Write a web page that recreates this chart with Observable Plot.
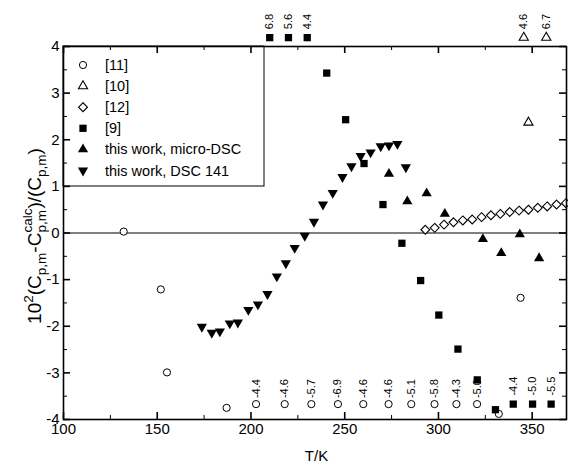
<!DOCTYPE html>
<html><head><meta charset="utf-8">
<script src="https://cdn.jsdelivr.net/npm/d3@7"></script>
<script src="https://cdn.jsdelivr.net/npm/@observablehq/plot@0.6"></script>
<style>
body{margin:0;background:#fff;}
#chart{position:relative;width:568px;height:469px;}
</style></head><body><div id="chart"></div>
<script>
// ---------- data (T/K, 10^2 (Cp - Cp_calc)/Cp) ----------
const ref11T = [132.1, 151.9, 155.2, 187.0, 202.7, 218.0, 232.2, 246.4, 259.9, 273.4, 285.5, 297.9, 309.6, 320.6, 332.2, 343.8];
const ref11Y = [0.03, -1.21, -2.99, -3.75, -4.4, -4.6, -5.7, -6.9, -4.6, -4.6, -5.1, -5.8, -4.3, -5.0, -3.88, -1.39];
const ref10T = [345.5, 348.0, 357.5];
const ref10Y = [4.6, 2.37, 6.7];
const ref12T = [293, 298, 303, 308, 313, 318, 323, 328, 333, 338, 343, 348, 353, 358, 363, 368];
const ref12Y = [0.07, 0.11, 0.18, 0.23, 0.27, 0.29, 0.34, 0.38, 0.41, 0.45, 0.48, 0.50, 0.54, 0.57, 0.61, 0.64];
const ref9T = [210, 220, 230, 240.4, 250.5, 260.3, 270.4, 280.5, 290.5, 300.2, 310.4, 320.7, 330.4, 339.9, 350.2, 360.1];
const ref9Y = [6.8, 5.6, 4.4, 3.43, 2.43, 1.49, 0.61, -0.22, -1.02, -1.76, -2.49, -3.15, -3.79, -4.4, -5.0, -5.5];
const microT = [273.6, 283.4, 293.7, 303.4, 323.7, 333.5, 343.4, 353.7];
const microY = [1.27, 0.68, 0.85, 0.41, -0.13, -0.43, -0.03, -0.54];
const dscT = [173.8, 179.1, 183.4, 188.7, 193.0, 198.6, 203.7, 208.8, 213.8, 218.6, 223.3, 228.7, 233.6, 238.4, 243.6, 248.8, 253.6, 258.5, 263.8, 269.2, 273.6, 278.1, 282.6];
const dscY = [-2.01, -2.14, -2.11, -1.94, -1.92, -1.65, -1.53, -1.31, -0.93, -0.65, -0.32, -0.06, 0.24, 0.61, 0.86, 1.20, 1.43, 1.65, 1.73, 1.86, 1.88, 1.91, 1.41];
const seriesNames = ["[11]", "[10]", "[12]", "[9]", "this work, micro-DSC", "this work, DSC 141"];
const xTicks = [100, 150, 200, 250, 300, 350];
const xMinor = [125, 175, 225, 275, 325];
const yTicks = [-4, -3, -2, -1, 0, 1, 2, 3, 4];
const yMinor = [-3.5, -2.5, -1.5, -0.5, 0.5, 1.5, 2.5, 3.5];
const xTitle = "T/K";

// ---------- layout ----------
const W = 568, H = 469, mL = 63, mR = 2, mT = 46, mB = 50;
const innerH = H - mT - mB, innerW = W - mL - mR;
const yLimLo = -4, yLimHi = 4;       // axis range
const yMarkLo = -3.67, yMarkHi = 4.19; // where off-scale points are drawn
const FONT = "'Liberation Sans', Arial, sans-serif";

const rows = (T, Y) => T.map((t, i) => {
  const v = Y[i];
  const out = v < yLimLo || v > yLimHi;
  return {t, v, out, y: v < yLimLo ? yMarkLo : v > yLimHi ? yMarkHi : v};
});
const d11 = rows(ref11T, ref11Y), d10 = rows(ref10T, ref10Y), d12 = rows(ref12T, ref12Y),
      d9 = rows(ref9T, ref9Y), dMicro = rows(microT, microY), dDsc = rows(dscT, dscY);

const sqrt3 = Math.sqrt(3);
const triDown = {draw(ctx, size) {
  const y = Math.sqrt(size / (sqrt3 * 3));
  ctx.moveTo(0, 2 * y); ctx.lineTo(-sqrt3 * y, -y); ctx.lineTo(sqrt3 * y, -y); ctx.closePath();
}};

const styles = [
  {symbol: d3.symbolCircle, r: 3.6, fill: "white", stroke: "black", strokeWidth: 1, labelGap: 6},
  {symbol: d3.symbolTriangle2, r: 4.4, fill: "white", stroke: "black", strokeWidth: 1.1, labelGap: 8.5},
  {symbol: d3.symbolDiamond2, r: 4.0, fill: "white", stroke: "black", strokeWidth: 1.1, labelGap: 8},
  {symbol: d3.symbolSquare, r: 4.1, fill: "black", stroke: "none", strokeWidth: 0, labelGap: 8.5},
  {symbol: d3.symbolTriangle, r: 3.8, fill: "black", stroke: "none", strokeWidth: 0, labelGap: 8},
  {symbol: triDown, r: 3.8, fill: "black", stroke: "none", strokeWidth: 0, labelGap: 8}
];
const datasets = [d11, d10, d12, d9, dMicro, dDsc];

const dotMarks = datasets.map((d, k) => {
  const {labelGap, ...s} = styles[k];
  return Plot.dot(d, {x: "t", y: "y", ...s});
});
const labelMarks = datasets.map((d, k) => Plot.text(d.filter(r => r.out), {
  x: "t", y: "y", text: r => r.v.toFixed(1), rotate: -90, textAnchor: "start",
  lineAnchor: "middle", dy: -styles[k].labelGap, fontSize: 11, fill: "black"
}));

const plot = Plot.plot({
  width: W, height: H,
  marginLeft: mL, marginRight: mR, marginTop: mT, marginBottom: mB,
  style: {fontFamily: FONT, fontSize: "15px", color: "black", background: "white"},
  x: {domain: [100, 368.3], label: null},
  y: {domain: [yLimLo, yLimHi], label: null},
  marks: [
    Plot.ruleY([0], {stroke: "black", strokeWidth: 1}),
    ...dotMarks,
    ...labelMarks,
    // inward ticks on all four sides
    Plot.tickX(xTicks, {x: d => d, insetTop: innerH - 7, stroke: "black", strokeWidth: 1.6}),
    Plot.tickX(xMinor, {x: d => d, insetTop: innerH - 4, stroke: "black", strokeWidth: 1}),
    Plot.tickX(xTicks, {x: d => d, insetBottom: innerH - 7, stroke: "black", strokeWidth: 1.6}),
    Plot.tickX(xMinor, {x: d => d, insetBottom: innerH - 4, stroke: "black", strokeWidth: 1}),
    Plot.tickY(yTicks, {y: d => d, insetRight: innerW - 7, stroke: "black", strokeWidth: 1.6}),
    Plot.tickY(yMinor, {y: d => d, insetRight: innerW - 4, stroke: "black", strokeWidth: 1}),
    Plot.tickY(yTicks, {y: d => d, insetLeft: innerW - 7, stroke: "black", strokeWidth: 1.6}),
    Plot.tickY(yMinor, {y: d => d, insetLeft: innerW - 4, stroke: "black", strokeWidth: 1}),
    Plot.axisX(xTicks, {tickSize: 0, tickPadding: 4, tickFormat: d => String(d), fontSize: 15, label: null}),
    Plot.axisY(yTicks, {tickSize: 0, tickPadding: 4, tickFormat: d => String(d), fontSize: 15, label: null}),
    Plot.frame({stroke: "black", strokeWidth: 1.6})
  ]
});
document.getElementById("chart").appendChild(plot);

// ---------- legend & axis titles ----------
const svg = d3.select(plot);
const lg = svg.append("g").attr("font-family", FONT).attr("font-size", 14.5).attr("text-anchor", "start");
lg.append("rect").attr("x", mL).attr("y", mT).attr("width", 201).attr("height", 140)
  .attr("fill", "none").attr("stroke", "black").attr("stroke-width", 1);
seriesNames.forEach((name, k) => {
  const cy = 65 + k * 21.1;
  const s = styles[k];
  lg.append("path").attr("transform", `translate(83,${cy})`)
    .attr("d", d3.symbol(s.symbol, Math.PI * s.r * s.r)())
    .attr("fill", s.fill).attr("stroke", s.stroke).attr("stroke-width", s.strokeWidth || null);
  lg.append("text").attr("x", 105).attr("y", cy).attr("dy", "0.35em")
    .attr("text-anchor", "start").text(name);
});

svg.append("text").attr("x", mL + innerW / 2 + 2).attr("y", 461).attr("text-anchor", "middle")
  .attr("font-family", FONT).attr("font-size", 15).text(xTitle);

const yt = svg.append("text").attr("transform", "translate(41,236) rotate(-90)")
  .attr("text-anchor", "middle").attr("font-family", FONT);
const parts = [
  {t: "10", s: 19, b: 0}, {t: "2", s: 13.5, b: -8}, {t: "(C", s: 19, b: 0}, {t: "p,m", s: 13.5, b: 4.5},
  {t: "-C", s: 19, b: 0}, {t: "p,m", s: 13.5, b: 4.5}, {t: "calc", s: 13.5, b: -9.5, back: true},
  {t: ")/(C", s: 19, b: 0}, {t: "p,m", s: 13.5, b: 4.5}, {t: ")", s: 19, b: 0}
];
let cur = 0, prev = null;
parts.forEach(p => {
  const ts = yt.append("tspan").attr("font-size", p.s).attr("dy", p.b - cur).text(p.t);
  if (p.back && prev) ts.attr("dx", -prev.node().getComputedTextLength());
  cur = p.b; prev = ts;
});
</script></body></html>
